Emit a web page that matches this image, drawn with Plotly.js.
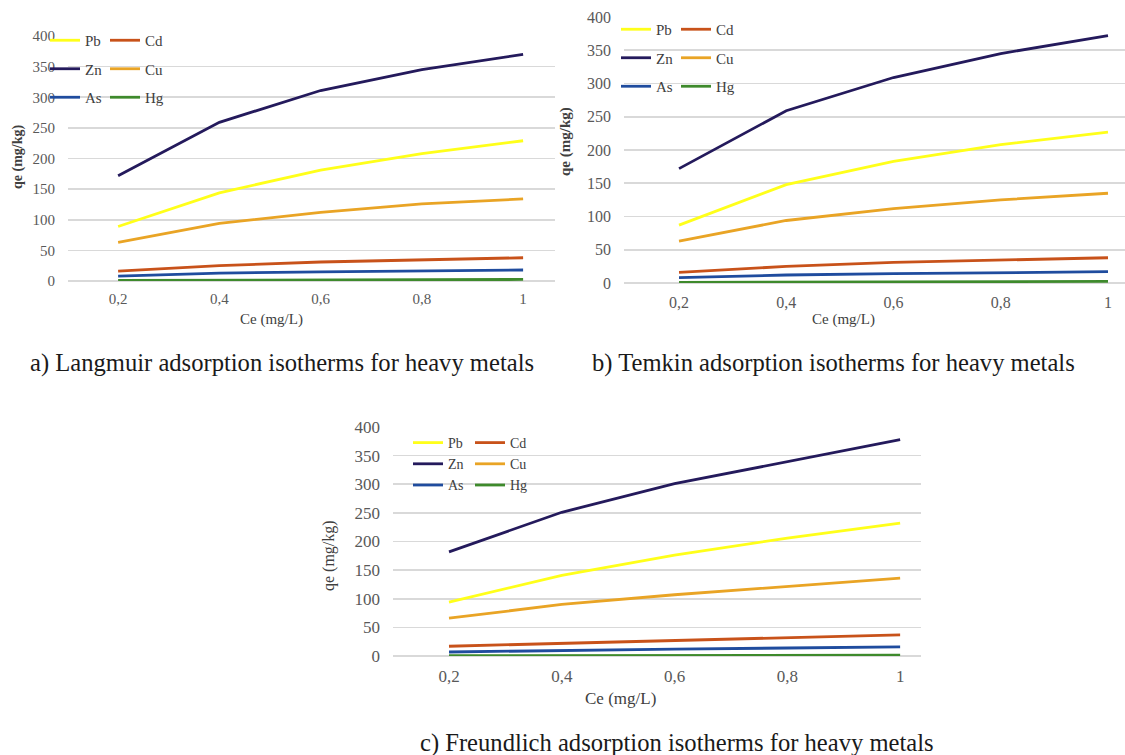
<!DOCTYPE html>
<html>
<head>
<meta charset="utf-8">
<script src="https://cdn.plot.ly/plotly-3.0.1.min.js"></script>
<style>
  html, body { margin: 0; padding: 0; background: #ffffff; }
  #chart { width: 1125px; height: 755px; }
</style>
</head>
<body>
<div id="chart"></div>
<script>
// ---- Data ----
const ce = [0.2, 0.4, 0.6, 0.8, 1];
const ceLabels = ['0,2', '0,4', '0,6', '0,8', '1'];
const yTicks = [0, 50, 100, 150, 200, 250, 300, 350, 400];
const metals = ['Pb', 'Cd', 'Zn', 'Cu', 'As', 'Hg'];

// a) Langmuir
const langmuirPb = [89, 144, 181, 208, 229];
const langmuirCd = [16, 25, 31, 35, 38];
const langmuirZn = [172, 259, 311, 345, 370];
const langmuirCu = [63, 94, 112, 126, 134];
const langmuirAs = [8, 13, 15, 17, 18];
const langmuirHg = [1, 1.5, 2, 2, 2.5];

// b) Temkin
const temkinPb = [87, 148, 183, 208, 227];
const temkinCd = [16, 25, 31, 34, 38];
const temkinZn = [172, 259, 309, 345, 372];
const temkinCu = [63, 94, 112, 125, 135];
const temkinAs = [8, 12, 14, 16, 17];
const temkinHg = [1, 1.5, 2, 2, 2.5];

// c) Freundlich
const freundlichPb = [94, 141, 176, 206, 232];
const freundlichCd = [17, 22, 28, 33, 37];
const freundlichZn = [182, 251, 301, 340, 378];
const freundlichCu = [66, 90, 107, 122, 136];
const freundlichAs = [7, 10, 12, 14, 16];
const freundlichHg = [0.5, 1, 1, 1.5, 1.5];

const captions = [
  'a) Langmuir adsorption isotherms for heavy metals',
  'b) Temkin adsorption isotherms for heavy metals',
  'c) Freundlich adsorption isotherms for heavy metals'
];
const xTitle = 'Ce (mg/L)';
const yTitle = 'qe (mg/kg)';

// ---- Styling ----
const W = 1125, H = 755;
const FONT = 'Liberation Serif';
const colors = {
  Pb: '#FFFF1A',
  Cd: '#C8521A',
  Zn: '#241A5C',
  Cu: '#E9A425',
  As: '#1F4C9E',
  Hg: '#3E8A2C'
};
const panelSeries = [
  {Pb: langmuirPb, Cd: langmuirCd, Zn: langmuirZn, Cu: langmuirCu, As: langmuirAs, Hg: langmuirHg},
  {Pb: temkinPb, Cd: temkinCd, Zn: temkinZn, Cu: temkinCu, As: temkinAs, Hg: temkinHg},
  {Pb: freundlichPb, Cd: freundlichCd, Zn: freundlichZn, Cu: freundlichCu, As: freundlichAs, Hg: freundlichHg}
];

// panel geometry in pixels
const panels = [
  {x0: 68, x1: 555, yTop: 36, yBot: 281, xr: [0.101, 1.063], tick: 15, leg: 15, legSize: 15,
   legX: [45, 105], legY: 24, gap: 6, xt: [271, 320], yt: [18, 157], xtSize: 15, ytSize: 14, ytBold: true,
   cap: [28, 363], xstand: 7},
  {x0: 624, x1: 1125, yTop: 17, yBot: 283, xr: [0.0974, 1.0317], tick: 16, leg: 15, legSize: 15,
   legX: [616, 676], legY: 13, gap: 6, xt: [843, 320], yt: [566, 142], xtSize: 15, ytSize: 15, ytBold: true,
   cap: [590, 363], xstand: 8},
  {x0: 393, x1: 921, yTop: 427, yBot: 656, xr: [0.1007, 1.037], tick: 17, leg: 14, legSize: 14,
   legX: [408, 470], legY: 427, gap: 0, xt: [620, 698], yt: [329, 556], xtSize: 17, ytSize: 16, ytBold: false,
   cap: [418, 743], xstand: 8}
];

const traces = [];
const layout = {
  width: W, height: H,
  margin: {l: 0, r: 0, t: 0, b: 0, pad: 0, autoexpand: false},
  paper_bgcolor: '#ffffff',
  plot_bgcolor: 'rgba(0,0,0,0)',
  font: {family: FONT, color: '#404040'},
  annotations: [],
  showlegend: true
};

const col1 = ['Pb', 'Zn', 'As'];
panels.forEach((p, i) => {
  const xa = i === 0 ? 'x' : 'x' + (i + 1);
  const ya = i === 0 ? 'y' : 'y' + (i + 1);
  const xKey = i === 0 ? 'xaxis' : 'xaxis' + (i + 1);
  const yKey = i === 0 ? 'yaxis' : 'yaxis' + (i + 1);
  const legA = i === 0 ? 'legend' : 'legend' + (2 * i + 1);
  const legB = 'legend' + (2 * i + 2);

  metals.forEach(m => {
    traces.push({
      x: ce, y: panelSeries[i][m],
      xaxis: xa, yaxis: ya,
      type: 'scatter', mode: 'lines',
      name: m,
      line: {color: colors[m], width: 2.8},
      legend: col1.includes(m) ? legA : legB,
      legendgroup: 'p' + i + m,
      hoverinfo: 'skip'
    });
  });

  layout[xKey] = {
    domain: [p.x0 / W, p.x1 / W],
    anchor: ya,
    range: p.xr,
    tickvals: ce, ticktext: ceLabels,
    showgrid: false, zeroline: false, showline: false, ticks: '',
    ticklabelstandoff: p.xstand,
    automargin: false,
    tickfont: {family: FONT, size: p.tick, color: '#595959'},
    fixedrange: true
  };
  layout[yKey] = {
    domain: [1 - p.yBot / H, 1 - p.yTop / H],
    anchor: xa,
    range: [0, 400],
    tickvals: yTicks,
    showgrid: true, gridcolor: '#d9d9d9', gridwidth: 1.6,
    zeroline: true, zerolinecolor: '#d9d9d9', zerolinewidth: 1.6,
    showline: false, ticks: '',
    ticklabelstandoff: 12,
    automargin: false,
    tickfont: {family: FONT, size: p.tick, color: '#595959'},
    fixedrange: true
  };
  const legBase = {
    xref: 'paper', yref: 'paper',
    yanchor: 'top', xanchor: 'left',
    bgcolor: 'rgba(0,0,0,0)', borderwidth: 0,
    orientation: 'v',
    tracegroupgap: p.gap,
    itemwidth: 30,
    font: {family: FONT, size: p.legSize, color: '#404040'}
  };
  layout[legA] = Object.assign({}, legBase, {x: p.legX[0] / W, y: 1 - p.legY / H});
  layout[legB] = Object.assign({}, legBase, {x: p.legX[1] / W, y: 1 - p.legY / H});

  layout.annotations.push({
    xref: 'paper', yref: 'paper', x: p.xt[0] / W, y: 1 - p.xt[1] / H,
    xanchor: 'center', yanchor: 'middle', showarrow: false,
    text: xTitle, font: {family: FONT, size: p.xtSize, color: '#404040'}
  });
  layout.annotations.push({
    xref: 'paper', yref: 'paper', x: p.yt[0] / W, y: 1 - p.yt[1] / H,
    xanchor: 'center', yanchor: 'middle', showarrow: false, textangle: -90,
    text: p.ytBold ? '<b>' + yTitle + '</b>' : yTitle,
    font: {family: FONT, size: p.ytSize, color: '#404040'}
  });
  layout.annotations.push({
    xref: 'paper', yref: 'paper', x: p.cap[0] / W, y: 1 - p.cap[1] / H,
    xanchor: 'left', yanchor: 'middle', showarrow: false,
    text: captions[i], font: {family: FONT, size: 24.6, color: '#1a1a1a'}
  });
});

Plotly.newPlot('chart', traces, layout, {displayModeBar: false, staticPlot: true});
</script>
</body>
</html>
